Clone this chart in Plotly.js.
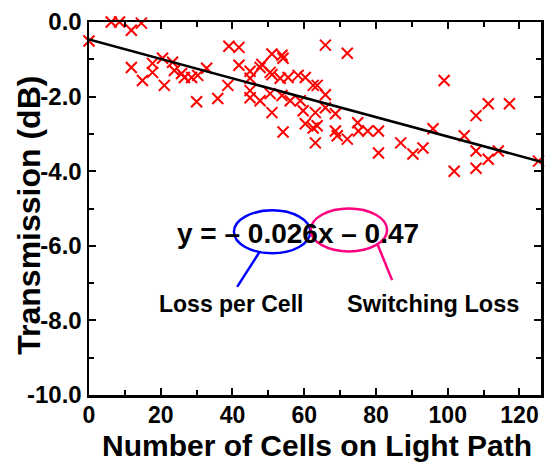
<!DOCTYPE html>
<html>
<head>
<meta charset="utf-8">
<script src="https://cdn.plot.ly/plotly-3.0.1.min.js"></script>
<style>html,body{margin:0;padding:0;background:#fff}#chart{width:550px;height:464px}</style>
</head>
<body>
<div id="chart"></div>
<script>
// Measured points: number of cells on light path vs transmission (dB)
const cells = [0, 6.2, 11.8, 14.6, 11.8, 14.9, 17.7, 17.7, 20.5, 21.0, 23.3, 23.8, 25.8, 26.6, 28.6, 30.3, 30.0,
  39.0, 41.8, 32.8, 41.8, 38.7, 35.9, 44.9, 44.9, 47.7, 48.2, 51.0, 53.8, 54.1, 50.5, 51.0, 53.3, 55.5, 58.3, 60.3,
  44.9, 44.9, 47.7, 50.5, 51.0, 53.8, 56.1, 58.9, 59.7, 60.3, 62.5, 63.1, 62.5, 63.1, 54.1,
  65.9, 72.0, 63.6, 65.9, 65.9, 68.7, 63.6, 68.7, 69.2, 72.0, 74.9, 75.1, 77.7, 80.7, 80.7, 86.9, 90.3, 93.1, 95.9,
  99.0, 111.3, 117.2, 107.9, 104.6, 107.9, 114.1, 111.3, 107.9, 101.8, 125.3, 8.5];
const transmission = [-0.51, 0.0, -0.22, -0.03, -1.22, -1.57, -1.11, -1.35, -0.97, -1.70, -1.08, -1.30, -1.38, -1.49, -1.49, -1.43, -2.14,
  -0.65, -0.68, -1.24, -1.16, -1.70, -2.05, -1.32, -1.51, -1.22, -1.14, -0.86, -0.89, -0.97, -1.35, -1.41, -1.51, -1.49, -1.43, -1.49,
  -1.84, -2.03, -2.11, -1.92, -2.43, -1.97, -2.11, -2.11, -2.38, -2.73, -1.70, -2.43, -2.84, -3.24, -2.95,
  -0.62, -0.84, -1.70, -1.95, -2.30, -2.46, -2.78, -2.92, -3.05, -3.14, -2.70, -2.92, -2.92, -2.92, -3.51, -3.24, -3.54, -3.38, -2.86,
  -1.57, -2.19, -2.19, -2.51, -3.05, -3.46, -3.46, -3.68, -3.92, -4.00, -3.73, 0.0];

// Linear fit parameters
const fitSlope = -0.026;
const fitIntercept = -0.47;
const fitX = [0, 126];
const fitY = fitX.map(x => fitSlope * x + fitIntercept);

const xTickVals = [0, 20, 40, 60, 80, 100, 120];
const xTickText = ["0", "20", "40", "60", "80", "100", "120"];
const yTickVals = [0, -2, -4, -6, -8, -10];
const yTickText = ["0.0", "-2.0", "-4.0", "-6.0", "-8.0", "-10.0"];

const FONT = "Liberation Sans, Arial, sans-serif";

const traces = [
  {
    x: cells, y: transmission, type: "scatter", mode: "markers",
    marker: {symbol: "x-thin-open", size: 11, color: "#ff0000", line: {color: "#ff0000", width: 2}},
    cliponaxis: false, hoverinfo: "skip"
  },
  {
    x: fitX, y: fitY, type: "scatter", mode: "lines",
    line: {color: "#000000", width: 2.5}, hoverinfo: "skip"
  }
];

const layout = {
  width: 550, height: 464,
  margin: {l: 89, r: 9, t: 22, b: 69},
  paper_bgcolor: "#ffffff", plot_bgcolor: "#ffffff",
  showlegend: false,
  font: {family: FONT, color: "#000000"},
  xaxis: {
    range: [0, 126], tickvals: xTickVals, ticktext: xTickText,
    ticks: "inside", ticklen: 7, tickwidth: 2, tickcolor: "#000",
    minor: {dtick: 10, ticks: "inside", ticklen: 5, tickwidth: 2, tickcolor: "#000"},
    showline: true, linewidth: 2.5, linecolor: "#000", mirror: "ticks",
    showgrid: false, zeroline: false,
    ticklabelstandoff: -2,
    tickfont: {family: FONT, size: 23, weight: 700, color: "#000"},
    automargin: false
  },
  yaxis: {
    range: [-10, 0], tickvals: yTickVals, ticktext: yTickText,
    ticks: "inside", ticklen: 7, tickwidth: 2, tickcolor: "#000",
    minor: {dtick: 1, ticks: "inside", ticklen: 5, tickwidth: 2, tickcolor: "#000"},
    showline: true, linewidth: 2.5, linecolor: "#000", mirror: "ticks",
    showgrid: false, zeroline: false,
    tickfont: {family: FONT, size: 24, weight: 700, color: "#000"},
    automargin: false
  },
  shapes: [
    {type: "circle", xref: "x", yref: "y", x0: 40.4, x1: 61.7, y0: -5.05, y1: -6.2, line: {color: "#0000ff", width: 2.5}},
    {type: "circle", xref: "x", yref: "y", x0: 61.8, x1: 83.1, y0: -5.0, y1: -6.15, line: {color: "#ff0080", width: 2.5}},
    {type: "line", xref: "x", yref: "y", x0: 47.5, y0: -6.17, x1: 41.3, y1: -7.1, line: {color: "#0000ff", width: 2.5}},
    {type: "line", xref: "x", yref: "y", x0: 80.5, y0: -5.98, x1: 84.5, y1: -6.92, line: {color: "#ff0080", width: 2.5}}
  ],
  annotations: [
    {xref: "paper", yref: "paper", x: 0.505, y: -0.186, xanchor: "center", yanchor: "bottom", text: "Number of Cells on Light Path", showarrow: false,
     font: {family: FONT, size: 30, weight: 700, color: "#000"}},
    {xref: "paper", yref: "paper", x: -0.133, y: 0.483, xanchor: "center", yanchor: "middle", text: "Transmission (dB)", textangle: -90, showarrow: false,
     font: {family: FONT, size: 32, weight: 700, color: "#000"}},
    {xref: "x", yref: "y", x: 58.3, y: -5.66, text: "y = \u2013 0.026x \u2013 0.47", showarrow: false,
     font: {family: FONT, size: 28, weight: 700, color: "#000"}},
    {xref: "x", yref: "y", x: 39.7, y: -7.56, text: "Loss per Cell", showarrow: false,
     font: {family: FONT, size: 23, weight: 700, color: "#000"}},
    {xref: "x", yref: "y", x: 95.8, y: -7.56, text: "Switching Loss", showarrow: false,
     font: {family: FONT, size: 23.5, weight: 700, color: "#000"}}
  ]
};

Plotly.newPlot("chart", traces, layout, {staticPlot: true, displayModeBar: false});
</script>
</body>
</html>
